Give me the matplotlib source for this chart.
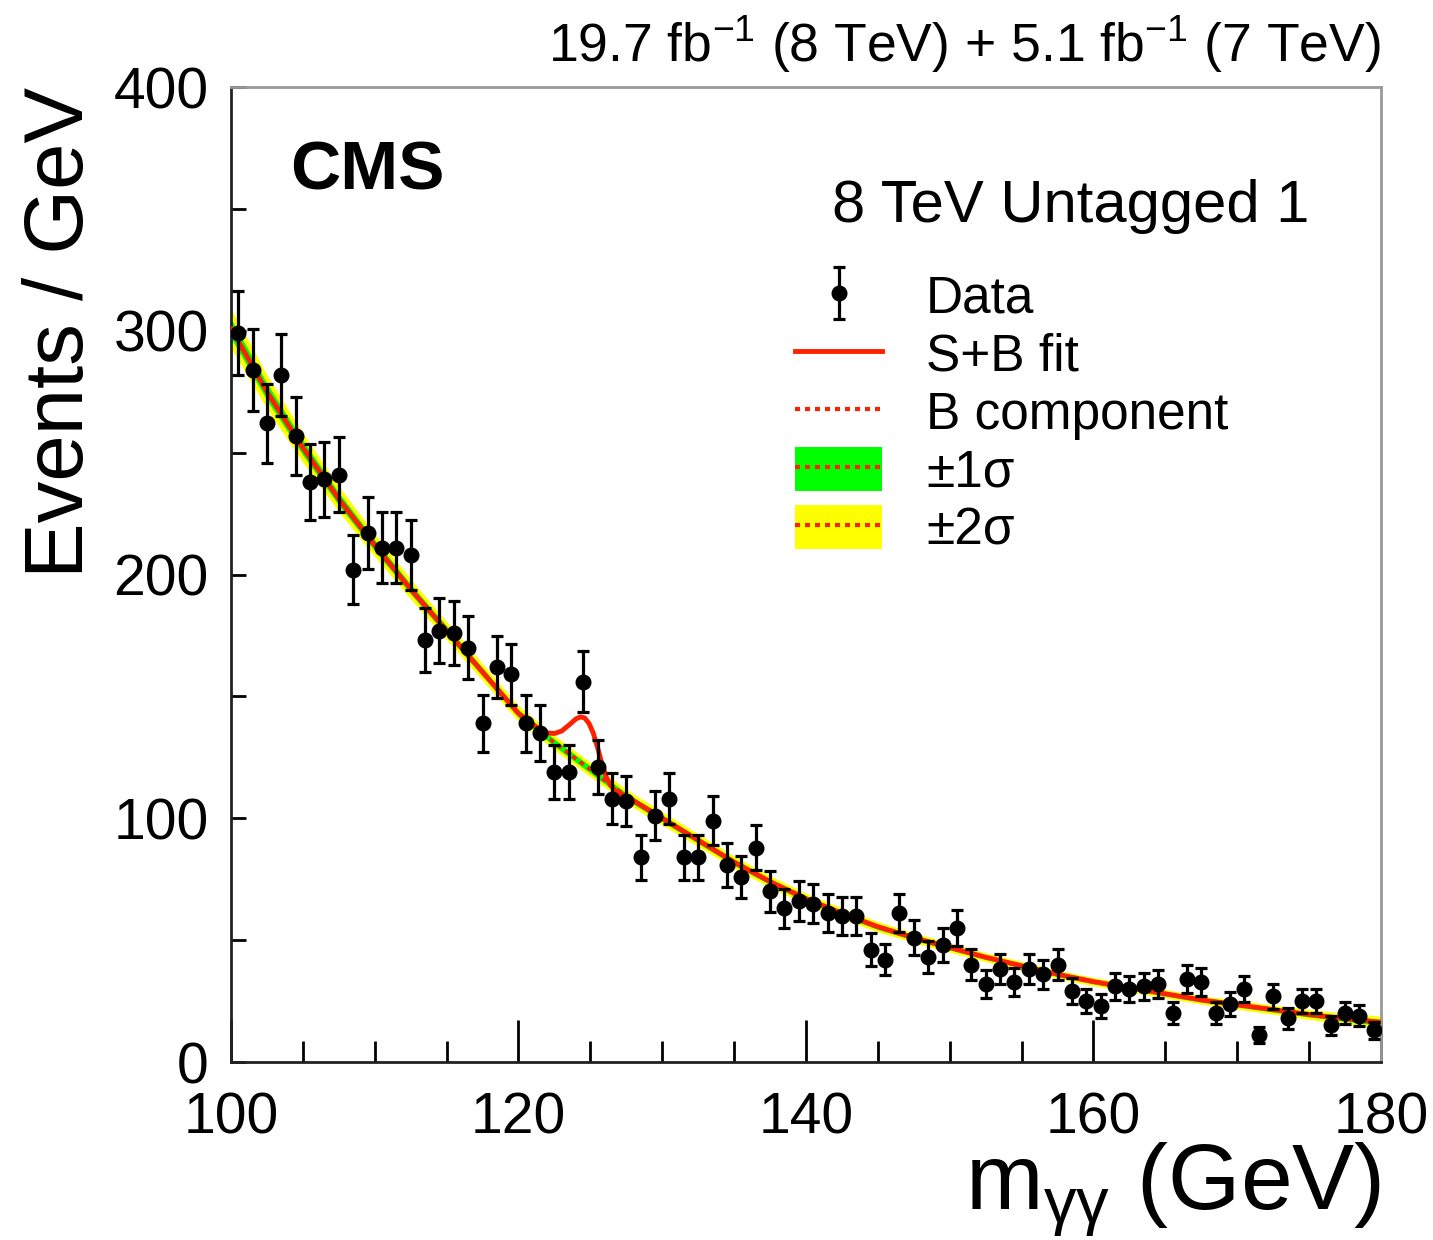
"""
CMS H->gg style plot: 8 TeV Untagged 1 category, data with S+B fit and bands.
"""
import numpy as np
import matplotlib
matplotlib.use("Agg")
import matplotlib.pyplot as plt
from matplotlib.lines import Line2D
from matplotlib.patches import Patch
from matplotlib.ticker import MultipleLocator

plt.rcParams["font.family"] = ["Liberation Sans", "DejaVu Sans"]
plt.rcParams["mathtext.fontset"] = "custom"
plt.rcParams["mathtext.rm"] = "Liberation Sans"
plt.rcParams["mathtext.it"] = "Liberation Sans:italic"

# data: events per 1 GeV bin, 100-180 GeV
BIN_CENTERS = np.arange(100.5, 180.0, 1.0)
COUNTS = [299, 284, 262, 282, 257, 238, 239, 241, 202, 217,
          211, 211, 208, 173, 177, 176, 170, 139, 162, 159,
          139, 135, 119, 119, 156, 121, 108, 107, 84, 101,
          108, 84, 84, 99, 81, 76, 88, 70, 63, 66,
          65, 61, 60, 60, 46, 42, 61, 51, 43, 48,
          55, 40, 32, 38, 33, 38, 36, 40, 29, 25,
          23, 31, 30, 31, 32, 20, 34, 33, 20, 24,
          30, 11, 27, 18, 25, 25, 15, 20, 19, 13]

# background fit curve read at 2.5 GeV steps
CURVE_X = [100, 102.5, 105, 107.5, 110, 112.5, 115, 117.5, 120, 122.5,
           125, 127.5, 130, 132.5, 135, 137.5, 140, 142.5, 145, 147.5,
           150, 152.5, 155, 157.5, 160, 162.5, 165, 167.5, 170, 172.5,
           175, 177.5, 180]
BKG = [301, 275, 252, 231, 212, 194, 177, 160, 143, 131,
       120, 109, 100, 91, 82, 74, 67, 61, 55.5, 51,
       47, 43, 39.5, 36, 33, 30.5, 28, 25.5, 23.5, 21.5,
       19.5, 17.8, 16.3]
BAND_2SIG = [8.0, 7.0, 6.0, 5.2, 4.6, 4.1, 3.7, 3.4, 3.2, 3.0,
             2.9, 2.8, 2.7, 2.6, 2.5, 2.4, 2.3, 2.2, 2.1, 2.0,
             1.9, 1.8, 1.8, 1.7, 1.7, 1.7, 1.7, 1.7, 1.8, 1.9,
             2.0, 2.2, 2.5]
BAND_1SIG = [4.0, 3.5, 3.0, 2.6, 2.3, 2.0, 1.9, 1.7, 1.6, 1.5,
             1.5, 1.4, 1.4, 1.3, 1.3, 1.2, 1.2, 1.1, 1.1, 1.0,
             1.0, 0.9, 0.9, 0.9, 0.9, 0.9, 0.9, 0.9, 0.9, 1.0,
             1.0, 1.1, 1.3]

# S+B curve around the signal peak
PEAK_X = [121.0, 121.5, 122.0, 122.5, 123.0, 123.5, 124.0, 124.3, 124.6,
          124.9, 125.2, 125.5, 125.8, 126.1, 126.4, 126.8, 127.5]
PEAK_Y = [138.5, 136.3, 135.0, 134.8, 135.8, 138.2, 140.8, 141.6, 141.2,
          139.0, 135.0, 129.0, 122.5, 117.0, 113.5, 111.0, 109.0]

RED = "#ff2000"

fig = plt.figure(figsize=(14.33, 12.40), dpi=100)
ax = fig.add_axes([0.1612, 0.1435, 0.8025, 0.7863])

cx = np.array(CURVE_X)
bkg = np.array(BKG)
ax.fill_between(cx, bkg - BAND_2SIG, bkg + BAND_2SIG, color="#ffff00", lw=0, zorder=1)
ax.fill_between(cx, bkg - BAND_1SIG, bkg + BAND_1SIG, color="#00ff00", lw=0, zorder=2)
ax.plot(cx, bkg, color=RED, lw=2.8, ls=(0, (1.2, 1.2)), zorder=3)

# S+B = background outside the peak window, peak readings inside
outside_lo = cx < PEAK_X[0]
outside_hi = cx > PEAK_X[-1]
sb_x = np.concatenate([cx[outside_lo], PEAK_X, cx[outside_hi]])
sb_y = np.concatenate([bkg[outside_lo], PEAK_Y, bkg[outside_hi]])
ax.plot(sb_x, sb_y, color=RED, lw=3.5, zorder=4, solid_capstyle="round")

counts = np.array(COUNTS, dtype=float)
data = ax.errorbar(BIN_CENTERS, counts, yerr=np.sqrt(counts), fmt="o",
                   color="black", ms=10.5, elinewidth=2.3, capsize=4.5,
                   capthick=2.3, zorder=5)

ax.set_xlim(100, 180)
ax.set_ylim(0, 400)
ax.xaxis.set_major_locator(MultipleLocator(20))
ax.xaxis.set_minor_locator(MultipleLocator(5))
ax.yaxis.set_major_locator(MultipleLocator(100))
ax.yaxis.set_minor_locator(MultipleLocator(50))
ax.tick_params(axis="x", which="major", direction="in", length=30, width=2,
               labelsize=41, pad=21, top=False)
ax.tick_params(axis="x", which="minor", direction="in", length=15, width=2, top=False)
ax.tick_params(axis="y", which="both", direction="in", length=11, width=2,
               labelsize=41, pad=16, right=False)
for side in ("left", "bottom"):
    ax.spines[side].set_color("#222222")
    ax.spines[side].set_linewidth(2)
for side in ("top", "right"):
    ax.spines[side].set_color("#999999")
    ax.spines[side].set_linewidth(2)

ax.set_ylabel("Events / GeV", fontsize=60, loc="top", labelpad=10)
ax.set_xlabel(r"$\mathrm{m}_{\mathrm{\gamma\gamma}}$ (GeV)", fontsize=67,
              loc="right", labelpad=-3)

ax.text(1.0, 1.012, r"19.7 fb$^{\mathrm{-1}}$ (8 TeV) + 5.1 fb$^{\mathrm{-1}}$ (7 TeV)",
        transform=ax.transAxes, ha="right", va="bottom", fontsize=38.5)
ax.text(0.051, 0.895, "CMS", transform=ax.transAxes, fontsize=50,
        fontweight="bold", ha="left", va="baseline")
ax.text(0.938, 0.862, "8 TeV Untagged 1", transform=ax.transAxes, fontsize=43,
        ha="right", va="baseline")

dash = (0, (1.2, 1.2))
handles = [
    data,
    Line2D([], [], color=RED, lw=3.5),
    Line2D([], [], color=RED, lw=3, ls=dash),
    (Patch(color="#00ff00", lw=0), Line2D([], [], color=RED, lw=3, ls=dash)),
    (Patch(color="#ffff00", lw=0), Line2D([], [], color=RED, lw=3, ls=dash)),
]
labels = ["Data", "S+B fit", "B component", "±1σ", "±2σ"]
fig.legend(handles, labels, loc="upper left",
           bbox_to_anchor=(795 / 1433, 1 - 273 / 1240), frameon=False,
           fontsize=37, handlelength=1.7, handleheight=0.95, handletextpad=0.85,
           labelspacing=0.14, borderpad=0, borderaxespad=0)

fig.savefig("out.png", dpi=100)
